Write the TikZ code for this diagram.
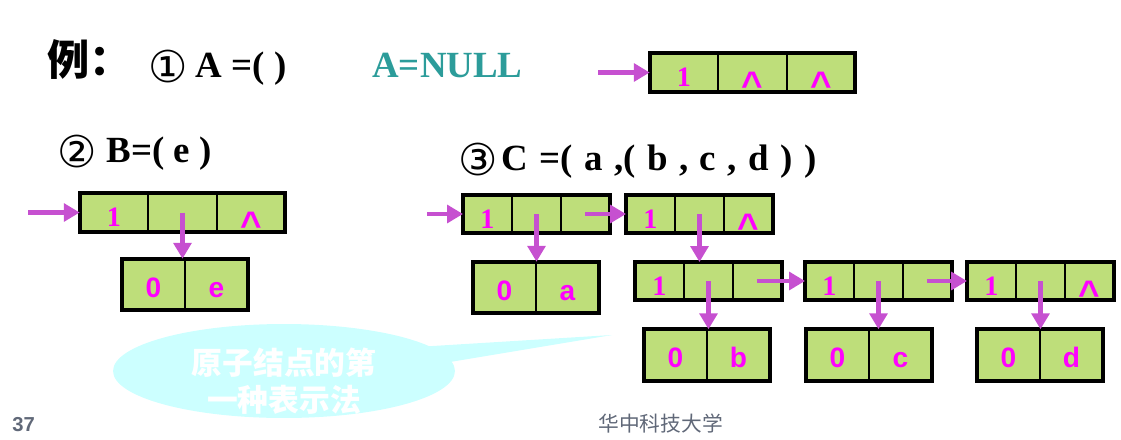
\documentclass[tikz,border=0pt]{standalone}
\usepackage{fontspec}
\setmainfont{Liberation Serif}
\setsansfont{Liberation Sans}
\newfontfamily\cjkfont{Noto Sans CJK SC}
\newfontfamily\symfont{DejaVu Sans}
\usepackage{tikz}
\usetikzlibrary{arrows.meta}
\usetikzlibrary{positioning}

\definecolor{listgreen}{RGB}{190,222,122}
\definecolor{tagpink}{RGB}{255,0,255}
\definecolor{ptrpurple}{RGB}{198,80,208}
\definecolor{nullteal}{RGB}{44,156,154}
\definecolor{bubblecyan}{RGB}{204,255,255}
\definecolor{footgray}{RGB}{96,104,120}

\newcommand{\nilmark}{\raisebox{-0.22cm}{\sffamily\bfseries\fontsize{21}{21}\selectfont\textasciicircum}}
\newcommand{\circnum}[1]{\raisebox{-0.11cm}{\symfont\mdseries\fontsize{25}{25}\selectfont #1}}

\tikzset{
  cell/.style={draw, line width=1.1pt, fill=listgreen, outer sep=0pt, inner sep=0pt,
    minimum height=0.78cm, text=tagpink, text height=0.58cm, text depth=0pt,
    font=\bfseries\fontsize{16}{16}\selectfont},
  widecell/.style={cell, minimum width=1.37cm},
  narrowcell/.style={cell, minimum width=0.98cm, minimum height=0.76cm},
  atomcell/.style={cell, minimum width=1.26cm, minimum height=1.03cm, text height=0.5cm,
    font=\sffamily\bfseries\fontsize{16}{16}\selectfont},
  boxrim/.style={line width=2.2pt},
  ptr/.style={draw=ptrpurple, line width=2.8pt, -{Triangle[length=9pt, width=10pt]}},
  heading/.style={anchor=base west, inner sep=0pt, font=\bfseries\fontsize{21}{21}\selectfont}
}

\begin{document}
\begin{tikzpicture}[x=0.02cm, y=-0.02cm]
\useasboundingbox (0,0) rectangle (1121,439);

% headings
\node[heading, font=\cjkfont\bfseries\fontsize{24}{24}\selectfont] (li) at (47,75) {例：};
\node[heading] (exa) at (148,77) {\circnum{①}\hspace{0.16cm}A =( )};
\node[heading, text=nullteal] (nul) at (372,77) {A=NULL};
\node[heading] (exb) at (57,162) {\circnum{②}\hspace{0.2cm}B=( e )};
\node[heading] (exc) at (458,170) {\spaceskip=0.31em\relax\circnum{③}\hspace{0.08cm}C =( a ,( b , c , d ) )};

% A = ()
\node[widecell] (a1) at (684,72.5) {1};
\node[widecell, right=0pt of a1] (a2) {\nilmark};
\node[widecell, right=0pt of a2] (a3) {\nilmark};
\coordinate (ain) at (598,72.5);

% B = (e)
\node[widecell] (b1) at (114,212.5) {1};
\node[widecell, right=0pt of b1] (b2) {};
\node[widecell, right=0pt of b2] (b3) {\nilmark};
\node[atomcell] (be1) at (153.5,284.5) {0};
\node[atomcell, right=0pt of be1] (be2) {e};
\coordinate (bin) at (28,212.5);

% C = (a,(b,c,d))
\node[narrowcell] (c11) at (487.5,214) {1};
\node[narrowcell, right=0pt of c11] (c12) {};
\node[narrowcell, right=0pt of c12] (c13) {};
\node[narrowcell] (c21) at (650.5,214) {1};
\node[narrowcell, right=0pt of c21] (c22) {};
\node[narrowcell, right=0pt of c22] (c23) {\nilmark};
\node[narrowcell] (c31) at (659.5,281) {1};
\node[narrowcell, right=0pt of c31] (c32) {};
\node[narrowcell, right=0pt of c32] (c33) {};
\node[narrowcell] (c41) at (829.5,281) {1};
\node[narrowcell, right=0pt of c41] (c42) {};
\node[narrowcell, right=0pt of c42] (c43) {};
\node[narrowcell] (c51) at (991.5,281) {1};
\node[narrowcell, right=0pt of c51] (c52) {};
\node[narrowcell, right=0pt of c52] (c53) {\nilmark};
\node[atomcell] (ca1) at (504.5,287.5) {0};
\node[atomcell, right=0pt of ca1] (ca2) {a};
\node[atomcell] (cb1) at (675.5,355) {0};
\node[atomcell, right=0pt of cb1] (cb2) {b};
\node[atomcell] (cc1) at (837.5,355) {0};
\node[atomcell, right=0pt of cc1] (cc2) {c};
\node[atomcell] (cd1) at (1008.5,355) {0};
\node[atomcell, right=0pt of cd1] (cd2) {d};
\coordinate (cin) at (427,214);

\foreach \f/\l in {a1/a3, b1/b3, be1/be2, c11/c13, c21/c23, c31/c33, c41/c43, c51/c53,
    ca1/ca2, cb1/cb2, cc1/cc2, cd1/cd2}
  \draw[boxrim] (\f.north west) rectangle (\l.south east);

% pointers
\draw[ptr] (ain) -- (a1.west);
\draw[ptr] (bin) -- (b1.west);
\draw[ptr] (b2.center) -- (b2.center |- be1.north);
\draw[ptr] (cin) -- (c11.west);
\draw[ptr] (c13.center) -- (c21.west);
\draw[ptr] (c12.center) -- (c12.center |- ca1.north);
\draw[ptr] (c22.center) -- (c22.center |- c31.north);
\draw[ptr] (c33.center) -- (c41.west);
\draw[ptr] (c43.center) -- (c51.west);
\draw[ptr] (c32.center) -- (c32.center |- cb1.north);
\draw[ptr] (c42.center) -- (c42.center |- cc1.north);
\draw[ptr] (c52.center) -- (c52.center |- cd1.north);

% callout
\fill[bubblecyan] (284,371) ellipse [x radius=3.42cm, y radius=0.94cm];
\fill[bubblecyan] (400,348) -- (612,335) -- (420,367) -- cycle;
\node[align=center, text=white, font=\cjkfont\bfseries\fontsize{17.5}{21}\selectfont] (note) at (284,381)
  {原子结点的第\\一种表示法};

% footer
\node[anchor=base west, inner sep=0pt, text=footgray, font=\sffamily\bfseries\fontsize{11.5}{12}\selectfont] (page) at (12,431) {37};
\node[anchor=base west, inner sep=0pt, text=footgray, font=\cjkfont\fontsize{11.8}{12}\selectfont] (school) at (598,431) {华中科技大学};
\end{tikzpicture}
\end{document}
